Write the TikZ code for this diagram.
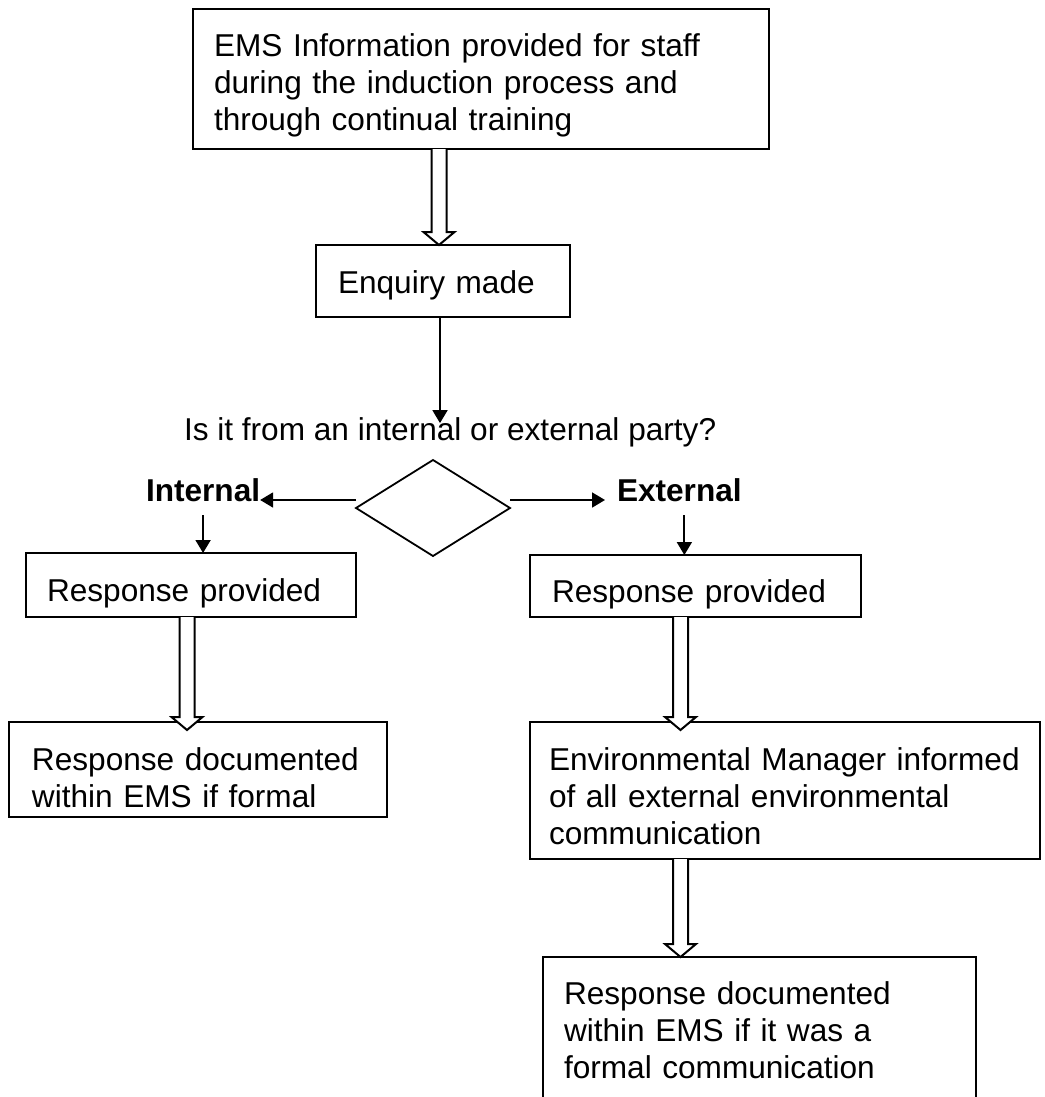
\documentclass[tikz,border=0pt]{standalone}
\usepackage{fontspec}
\setmainfont{Liberation Sans}
\usetikzlibrary{shapes.geometric, arrows.meta, calc}

\newcommand{\mainsize}{\fontsize{15.8}{18.5}\selectfont}
% hollow block arrow: source node, target node, x position, tip overshoot
\newcommand{\fatarrow}[4]{%
  \path (#1.south -| #3,0) coordinate (fa-s)
        (#2.north -| #3,0) coordinate (fa-e);
  \filldraw[fat] ($(fa-s)+(-7.5,0)$) -- ($(fa-e)+(-7.5,#4-13)$)
    -- ($(fa-e)+(-15.5,#4-13)$) -- ($(fa-e)+(0,#4)$)
    -- ($(fa-e)+(15.5,#4-13)$) -- ($(fa-e)+(7.5,#4-13)$)
    -- ($(fa-s)+(7.5,0)$);
}

\begin{document}
\begin{tikzpicture}[
  x=0.5pt, y=-0.5pt,
  every node/.style={font=\mainsize},
  box/.style={rectangle, draw=black, line width=1pt, anchor=north west,
              align=left, inner ysep=0pt, outer sep=0pt, text height=24pt,
              execute at begin node={\hyphenpenalty=10000}},
  lbl/.style={inner sep=0pt, outer sep=0pt, anchor=base west},
  tag/.style={lbl, font=\mainsize\bfseries},
  arr/.style={-{Triangle[length=6.5pt, width=7.5pt]}, line width=0.9pt},
  fat/.style={draw=black, fill=white, line width=1pt, line join=miter}
]
\useasboundingbox (0,0) rectangle (1044,1097);
\fill[white] (0,0) rectangle (1044,1097);
\clip (0,0) rectangle (1044,1097);

% --- Top ---
\node[box, inner xsep=10.5pt, text width=267pt, text depth=46pt] (info) at (193,9)
  {EMS Information provided for staff\\during the induction process and\\through continual training};
\node[box, inner xsep=11pt, text width=105pt, text depth=12pt] (enq) at (316,245) {Enquiry made};

% --- Decision ---
\node[lbl] (quest) at (184,440) {Is it from an internal or external party?};
\node[diamond, draw, line width=0.9pt, minimum width=77pt, minimum height=48pt,
      inner sep=0pt, outer sep=0pt] (dec) at (433,508) {};
\node[tag] (intl) at (146,501) {Internal};
\node[tag] (extl) at (617,501) {External};

% --- Internal branch ---
\node[box, inner xsep=10.5pt, text width=144pt, text depth=8pt] (respi) at (26,553) {Response provided};
\node[box, inner xsep=11.5pt, text width=166pt, text depth=23.5pt] (docl) at (9,722)
  {Response documented\\within EMS if formal};

% --- External branch ---
\node[box, inner xsep=11pt, text width=143.5pt, text height=23.5pt, text depth=7.5pt] (respe) at (530,555) {Response provided};
\node[box, inner xsep=9.5pt, text width=236pt, text depth=44.5pt] (env) at (530,722)
  {\mbox{Environmental Manager informed}\\of all external environmental\\communication};
\node[box, inner xsep=10.5pt, text width=195.5pt, text height=23.5pt, text depth=63pt] (docr) at (543,957)
  {Response documented\\within EMS if it was a\\formal communication};

% --- Arrows ---
\draw[arr, shorten >=-3pt] ([xshift=-1.5pt]enq.south) -- ([xshift=-1.5pt]enq.south |- quest.north);
\draw[arr] ([yshift=4pt]dec.west) -- ([yshift=4pt]dec.west -| intl.east);
\draw[arr, shorten >=6pt] ([yshift=4pt]dec.east) -- ([yshift=4pt]dec.east -| extl.west);
\draw[arr, shorten <=7pt] (intl.south) -- (intl.south |- respi.north);
\draw[arr, shorten <=7pt] ([xshift=2.5pt]extl.south) -- ([xshift=2.5pt]extl.south |- respe.north);

\fatarrow{info}{enq}{439}{0}
\fatarrow{respi}{docl}{187}{8}
\fatarrow{respe}{env}{680.5}{8}
\fatarrow{env}{docr}{680.5}{0}

\end{tikzpicture}
\end{document}
